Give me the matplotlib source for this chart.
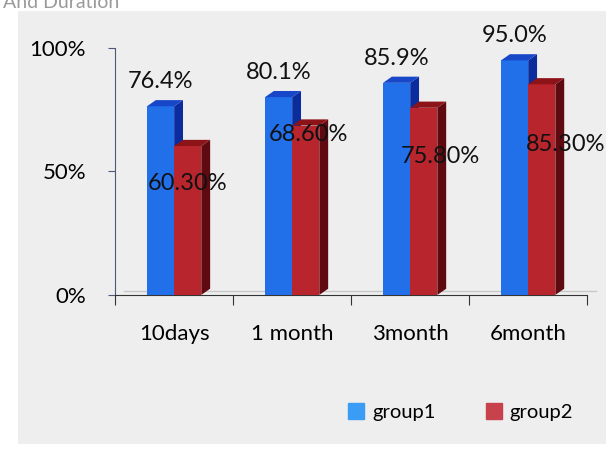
import matplotlib.pyplot as plt
from matplotlib.patches import Polygon, Rectangle
import numpy as np

# Data
categories = ['10days', '1 month', '3month', '6month']
group1 = [76.4, 80.1, 85.9, 95.0]
group2 = [60.3, 68.6, 75.8, 85.3]
group1_labels = ['76.4%', '80.1%', '85.9%', '95.0%']
group2_labels = ['60.30%', '68.60%', '75.80%', '85.30%']
series_names = ['group1', 'group2']

# label placement (as arranged in the original chart)
g2_label_y = [45, 65, 56, 61]
g2_label_dx = [0.0, 0.02, 0.14, 0.2]

plt.rcParams['font.family'] = ['Lato', 'DejaVu Sans']

blue_front, blue_side, blue_top = '#2170ea', '#0b2c9c', '#1846c8'
red_front, red_side, red_top = '#b8252d', '#5e0a10', '#8c1419'
legend_colors = ['#3a9cf4', '#c8424e']

fig = plt.figure(figsize=(6.06, 4.53), dpi=100, facecolor='white')
# photographed chart area
fig.patches.append(Rectangle((0.03, 0.02), 0.97, 0.955, transform=fig.transFigure,
                             facecolor='#eeeeee', edgecolor='none', zorder=-10))
fig.text(0.005, 0.995, 'And Duration', color='#9a9a9a', fontsize=14, va='center')

ax = fig.add_axes([0.19, 0.349, 0.779, 0.545])
ax.set_facecolor('none')
ax.set_xlim(-0.5, 3.5)
ax.set_ylim(0, 100)

w = 0.23
dx, dy = 0.075, 2.5
x = np.arange(len(categories))


def bar3d(xc, h, front, side, top):
    x0, x1 = xc - w / 2, xc + w / 2
    ax.bar(xc, h, width=w, color=front, zorder=3, clip_on=False)
    ax.add_patch(Polygon([(x1, 0), (x1 + dx, dy), (x1 + dx, h + dy), (x1, h)],
                         closed=True, facecolor=side, edgecolor='none', zorder=3, clip_on=False))
    ax.add_patch(Polygon([(x0, h), (x0 + dx, h + dy), (x1 + dx, h + dy), (x1, h)],
                         closed=True, facecolor=top, edgecolor='none', zorder=3, clip_on=False))


for i in range(len(categories)):
    bar3d(x[i] - w / 2, group1[i], blue_front, blue_side, blue_top)
    bar3d(x[i] + w / 2, group2[i], red_front, red_side, red_top)
    ax.text(x[i] - w / 2, group1[i] + 10, group1_labels[i], ha='center', va='center',
            fontsize=17, color='#111111', zorder=5, clip_on=False)
    ax.text(x[i] + w / 2 + g2_label_dx[i], g2_label_y[i], group2_labels[i], ha='center', va='center',
            fontsize=17, color='#111111', zorder=5, clip_on=False)

# floor back edge
ax.plot([-0.5 + dx, 3.5 + dx], [dy * 0.6, dy * 0.6], color='#c8c8c8', lw=1, zorder=1, clip_on=False)

ax.set_yticks([0, 50, 100])
ax.set_yticklabels(['0%', '50%', '100%'], fontsize=16)
ax.set_xticks(np.arange(-0.5, 4.0, 1.0))
ax.set_xticklabels([])
ax.set_xticks(x, minor=True)
ax.set_xticklabels(categories, minor=True, fontsize=16)
ax.tick_params(axis='x', which='major', length=7, direction='out', color='#333333')
ax.tick_params(axis='x', which='minor', length=0, pad=21)
ax.tick_params(axis='y', length=5, direction='out', pad=16, color='#4a5a78')

for s in ['top', 'right']:
    ax.spines[s].set_visible(False)
ax.spines['left'].set_color('#4a5a78')
ax.spines['bottom'].set_color('#333333')

handles = [Rectangle((0, 0), 1, 1, color=c) for c in legend_colors]
fig.legend(handles, series_names, loc='center', bbox_to_anchor=(0.76, 0.09), ncol=2,
           frameon=False, fontsize=14.5, handlelength=0.8, handleheight=0.8,
           columnspacing=2.5, handletextpad=0.4)

fig.savefig('out.png', dpi=100, facecolor=fig.get_facecolor())
